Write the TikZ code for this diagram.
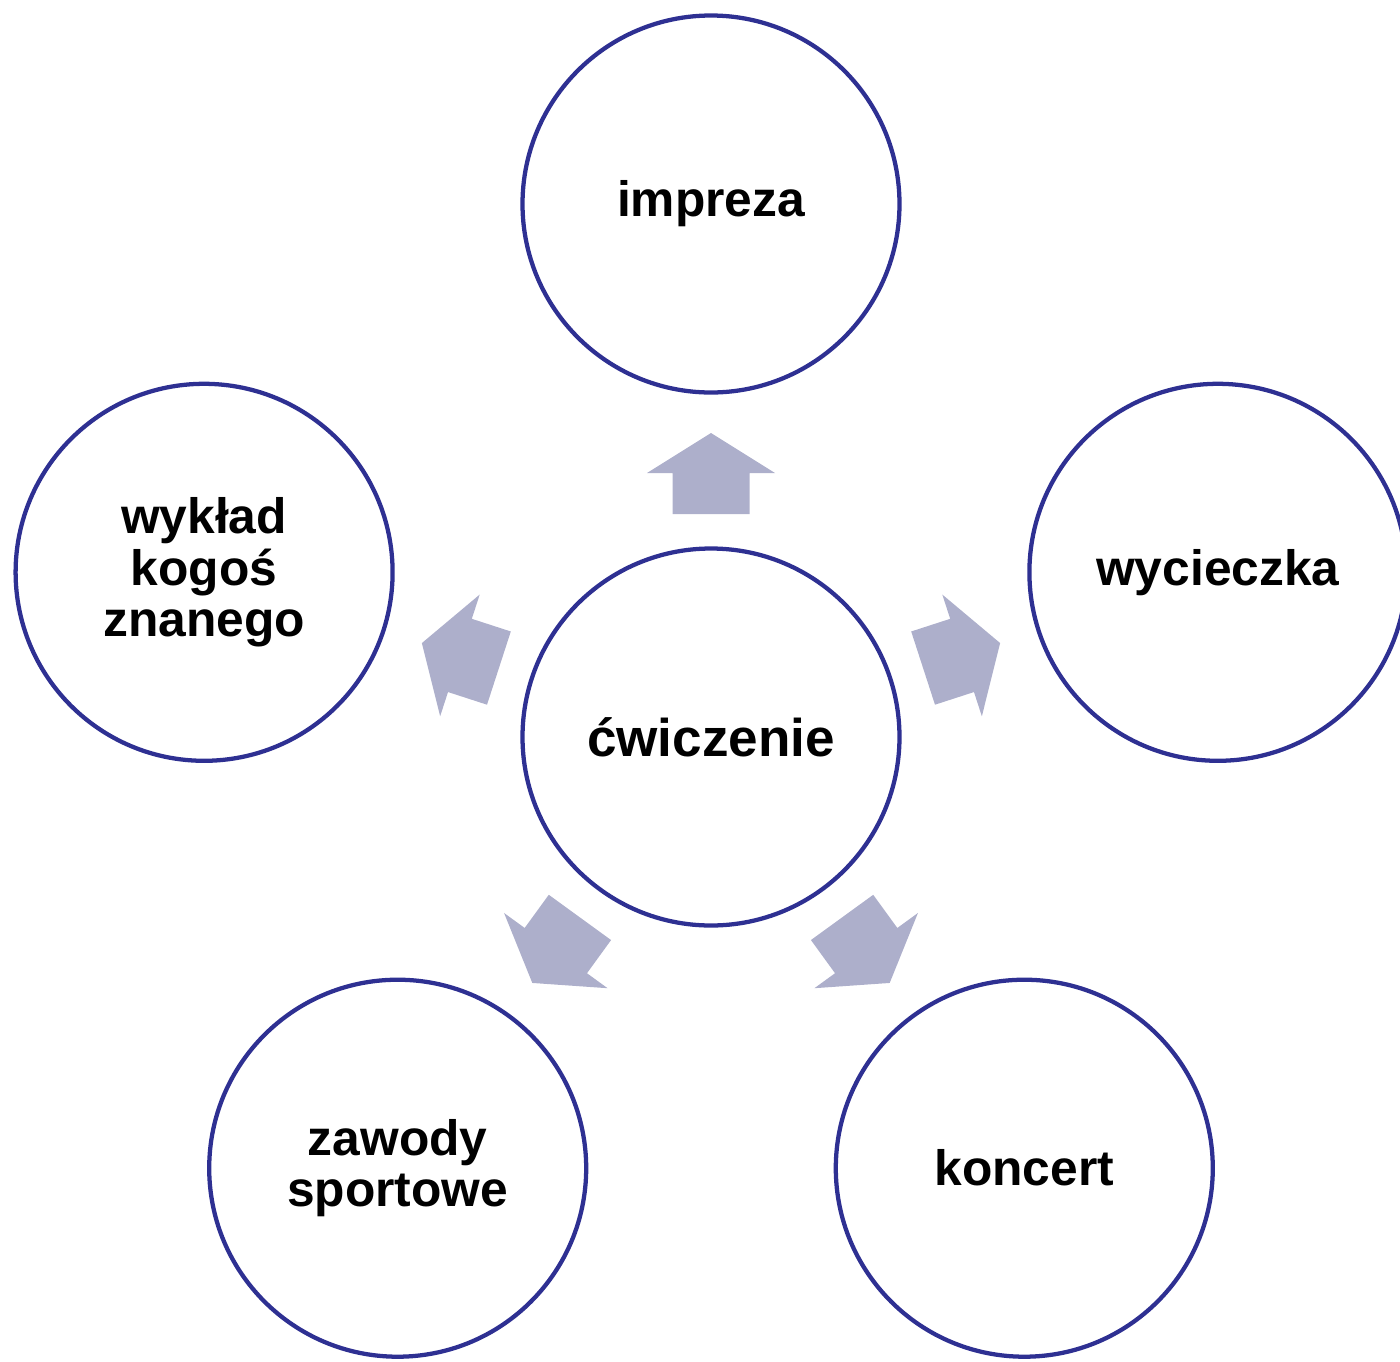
\documentclass[tikz,border=0pt]{standalone}
\usepackage{fontspec}
\setmainfont{Liberation Sans}

\definecolor{ringblue}{RGB}{46,48,146}
\definecolor{arrowgray}{RGB}{173,175,203}

\tikzset{
  bubble/.style={circle, draw=ringblue, line width=3.2pt, minimum size=282.75pt, inner sep=0pt,
    align=center, font=\bfseries\fontsize{37.3}{38.5}\selectfont},
  blockarrow/.style={fill=arrowgray, draw=none}
}

\begin{document}
\begin{tikzpicture}[x=0.75pt,y=0.75pt,yscale=-1,xscale=1]
\useasboundingbox (0,0) rectangle (1400,1361);

%Circles
\node [bubble, font=\bfseries\fontsize{39.8}{40}\selectfont] (cwiczenie) at (711,737) {ćwiczenie};
\node [bubble] (impreza) at (711,204) {impreza};
\node [bubble] (wycieczka) at (1217.9,572.3) {wycieczka};
\node [bubble] (koncert) at (1024.3,1168.2) {koncert};
\node [bubble] (zawody) at (397.7,1168.2) {zawody\\sportowe};
\node [bubble] (wyklad) at (204.1,572.3) {wykład\\kogoś\\znanego};

%Block arrows (y axis is flipped, so rotate by minus the angle)
\foreach \ang in {90,18,-54,-126,162} {
  \begin{scope}[shift={(cwiczenie.center)}, rotate=-\ang]
    \fill [blockarrow] (223,-38.5) -- (264,-38.5) -- (264,-64) -- (304,0)
      -- (264,64) -- (264,38.5) -- (223,38.5) -- cycle;
  \end{scope}
}

\end{tikzpicture}
\end{document}
